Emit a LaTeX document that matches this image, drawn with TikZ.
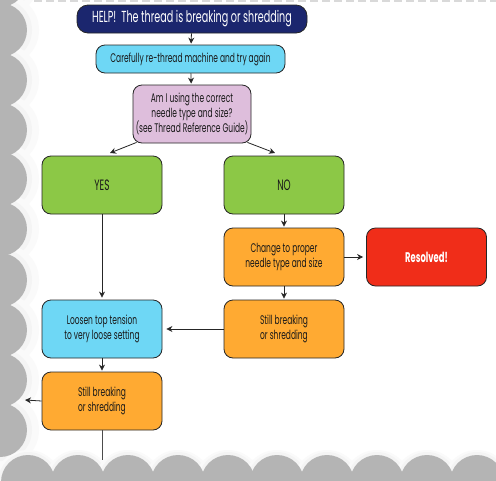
\documentclass[tikz,border=0pt]{standalone}
\usepackage{fontspec}
\setmainfont{Poppins}[FakeStretch=0.6]
\usetikzlibrary{arrows.meta,calc}
\definecolor{navy}{HTML}{1B266E}
\definecolor{skyb}{HTML}{6ED7F5}
\definecolor{lilac}{HTML}{DEBEDC}
\definecolor{leaf}{HTML}{8CC846}
\definecolor{amber}{HTML}{FFAA32}
\definecolor{fire}{HTML}{F02D19}
\definecolor{scallop}{HTML}{B4B4B4}
\begin{document}
\begin{tikzpicture}[x=1pt,y=-1pt,
  box/.style={draw=black!85, line width=0.8pt, rounded corners=9pt, inner sep=0pt,
    align=center, font=\fontsize{12.5}{14.8}\selectfont, text=black!90,
    minimum width=120pt, minimum height=58pt},
  arr/.style={draw=black!85, line width=0.8pt, -{Stealth[length=6pt,width=6pt]}, shorten >=1pt},
  plain/.style={draw=black!70, line width=1pt},
]
\useasboundingbox (0,0) rectangle (496,480);
\fill[white] (0,0) rectangle (496,480);
% top dashed rule
\draw[gray!30, line width=1.2pt, dash pattern=on 8pt off 4pt] (22,1) -- (496,1);
% scallop shadows
\foreach \yy in {-20,30,80,130,179,229,280,330,380,430}{
  \fill[gray!4] (3,\yy) circle (36);
  \fill[gray!9] (1,\yy) circle (31);
}
\foreach \xx in {28,78,128,178,228,277,327,377,427,477}{
  \fill[gray!4] (\xx,484) circle (34);
  \fill[gray!9] (\xx,482) circle (30);
}
% scallops
\foreach \yy in {-20,30,80,130,179,229,280,330,380,430}{
  \fill[scallop] (0,\yy) circle (27);
}
\foreach \xx in {28,78,128,178,228,277,327,377,427,477}{
  \fill[scallop] (\xx,482) circle (27);
}
% nodes
\node[box, fill=navy, text=white, minimum width=230pt, minimum height=28pt,
  rounded corners=11pt, font=\fontsize{16}{18}\selectfont] (help) at (192,19)
  {HELP!\ \ The thread is breaking or shredding};
\node[box, fill=skyb, minimum width=189pt, minimum height=28pt] (care) at (190.5,59)
  {Carefully re-thread machine and try again};
\node[box, fill=lilac, minimum width=118pt, minimum height=58pt] (am) at (192,114)
  {Am I using the correct\\needle type and size?\\(see Thread Reference Guide)};
\node[box, fill=leaf, font=\fontsize{15}{17}\selectfont] (yes) at (102,185) {YES};
\node[box, fill=leaf, font=\fontsize{15}{17}\selectfont] (no) at (284,185) {NO};
\node[box, fill=amber] (chg) at (284,257) {Change to proper\\needle type and size};
\node[box, fill=fire, text=white, font=\fontsize{14}{16}\selectfont\bfseries] (res) at (426.5,257) {Resolved!};
\node[box, fill=skyb] (loos) at (102,329) {Loosen top tension\\to very loose setting};
\node[box, fill=amber] (stillr) at (284,329) {Still breaking\\or shredding};
\node[box, fill=amber] (stilll) at (102,401) {Still breaking\\or shredding};
% free ends
\coordinate (ay) at (110,153);
\coordinate (an) at (275,153);
\coordinate (lout) at (25,400);
\coordinate (dout) at (102,460);
% connectors
\draw[arr] (help) -- (care);
\draw[arr] (care) -- (am);
\draw[arr, shorten >=0pt] ([xshift=4pt,yshift=1pt]am.south west) -- (ay);
\draw[arr, shorten >=0pt] ([xshift=-4pt,yshift=1pt]am.south east) -- (an);
\draw[arr, shorten >=2pt] (yes) -- (loos);
\draw[arr] (no) -- (chg);
\draw[arr, shorten >=3pt] (chg) -- (res);
\draw[arr] (chg) -- (stillr);
\draw[arr, shorten >=4pt] (stillr) -- (loos);
\draw[arr] (loos) -- (stilll);
\draw[arr, shorten >=0pt] (stilll.west) -- (lout);
\draw[plain] (stilll.south) -- (dout);
\end{tikzpicture}
\end{document}
